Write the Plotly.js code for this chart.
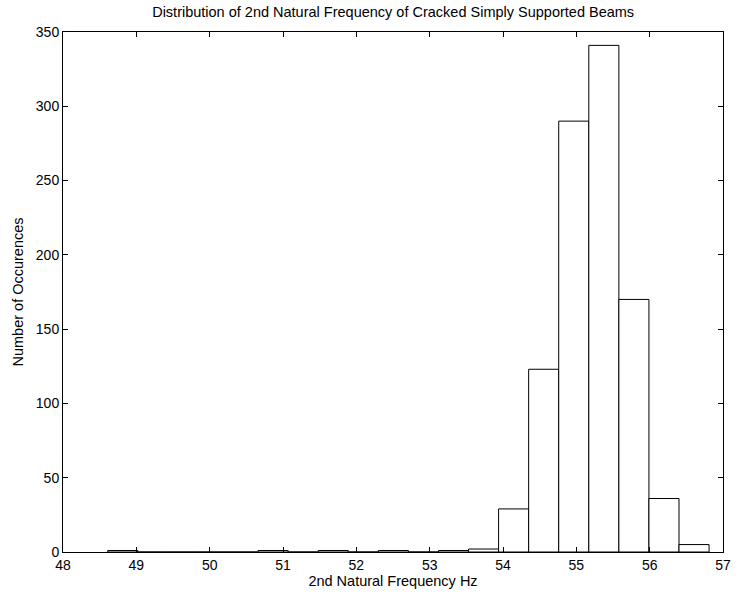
<!DOCTYPE html>
<html>
<head>
<meta charset="utf-8">
<script src="https://cdn.plot.ly/plotly-3.0.1.min.js"></script>
<style>html,body{margin:0;padding:0;background:#fff;}#chart{width:746px;height:594px;}</style>
</head>
<body>
<div id="chart"></div>
<script>
// Histogram (20 bins) of 2nd natural frequency
const binCenters = [48.815, 49.225, 49.635, 50.045, 50.455, 50.865, 51.275, 51.685, 52.095, 52.505,
                    52.915, 53.325, 53.735, 54.145, 54.555, 54.965, 55.375, 55.785, 56.195, 56.605];
const counts = [1, 0, 0, 0, 0, 1, 0, 1, 0, 1, 0, 1, 2, 29, 123, 290, 341, 170, 36, 5];
const binWidth = 0.41;
const xTicks = [48, 49, 50, 51, 52, 53, 54, 55, 56, 57];
const yTicks = [0, 50, 100, 150, 200, 250, 300, 350];

const font = {family: 'Liberation Sans, Arial, sans-serif', size: 14, color: '#000'};

Plotly.newPlot('chart', [{
  type: 'bar',
  x: binCenters,
  y: counts,
  width: binCenters.map(() => binWidth),
  marker: {color: '#ffffff', line: {color: '#000000', width: 1}},
  hoverinfo: 'x+y'
}], {
  width: 746, height: 594,
  margin: {l: 63, r: 23, t: 32, b: 42},
  paper_bgcolor: '#fff', plot_bgcolor: '#fff',
  font: font,
  showlegend: false,
  bargap: 0,
  title: {text: 'Distribution of 2nd Natural Frequency of Cracked Simply Supported Beams',
          font: {family: font.family, size: 14.5, color: '#000'}, x: 0.527, xanchor: 'center', y: 0.98, yanchor: 'middle'},
  xaxis: {
    range: [48, 57], tickvals: xTicks, ticktext: xTicks.map(String),
    ticks: 'inside', ticklen: 5, tickcolor: '#000', showline: true, linecolor: '#000', linewidth: 1,
    mirror: 'ticks', showgrid: false, zeroline: false, tickfont: {size: 14},
    title: {text: '2nd Natural Frequency Hz', font: {size: 14.5}, standoff: 0}
  },
  yaxis: {
    range: [0, 350], tickvals: yTicks, ticktext: yTicks.map(String),
    ticks: 'inside', ticklen: 5, tickcolor: '#000', showline: true, linecolor: '#000', linewidth: 1,
    mirror: 'ticks', showgrid: false, zeroline: false, tickfont: {size: 14},
    title: {text: 'Number of Occurences', font: {size: 14.5}, standoff: 8}
  }
}, {displayModeBar: false, staticPlot: true});
</script>
</body>
</html>
